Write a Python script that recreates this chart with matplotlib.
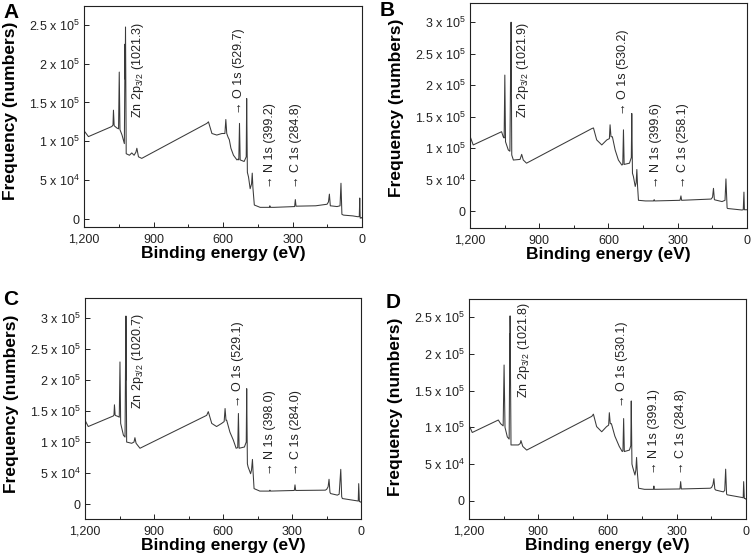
import matplotlib
matplotlib.use('Agg')
import matplotlib.pyplot as plt

plt.rcParams['font.family'] = ['Liberation Sans', 'DejaVu Sans']
plt.rcParams['mathtext.fontset'] = 'custom'
plt.rcParams['mathtext.rm'] = 'Liberation Sans'
plt.rcParams['mathtext.default'] = 'regular'

# XPS survey spectra, binding energy (eV) and counts in units of 1e5
energy_a = [1199, 1196, 1181, 1080, 1075, 1073, 1070, 1058, 1051, 1048, 1045, 1036, 1026, 1023, 1022.5, 1021,
            1018, 1004, 994, 984, 976, 972, 965, 951, 670, 663, 648, 627, 605, 592, 588, 584, 578, 573, 566,
            555, 540, 535, 532, 529, 526, 509, 500, 498, 495, 490, 483, 477, 474, 471, 465, 440, 400, 398,
            396, 380, 291, 288, 285, 200, 151, 145, 141, 137, 108, 95, 91, 87, 80, 40, 20, 12, 10, 8, 3, 0]
counts_a = [1.13, 1.12, 1.06, 1.19, 1.21, 1.40, 1.20, 1.17, 1.16, 1.89, 1.15, 1.08, 0.97, 2.25, 1.80, 2.47,
            0.84, 0.82, 0.85, 0.82, 0.86, 0.91, 0.80, 0.78, 1.23, 1.25, 1.10, 1.08, 1.10, 1.10, 1.28, 1.10,
            1.05, 1.02, 0.91, 0.82, 0.76, 0.77, 0.76, 1.23, 0.76, 0.74, 0.80, 1.55, 0.60, 0.54, 0.39, 0.45,
            0.59, 0.40, 0.18, 0.15, 0.15, 0.17, 0.15, 0.15, 0.16, 0.25, 0.165, 0.17, 0.19, 0.22, 0.32, 0.17,
            0.16, 0.17, 0.46, 0.06, 0.05, 0.04, 0.03, 0.03, 0.27, 0.01, 0.02, 0.01]

energy_b = [1199, 1186, 1063, 1056, 1052, 1049, 1046, 1034, 1027, 1023, 1022.5, 1022, 1019, 1012, 983, 976,
            969, 955, 672, 665, 651, 629, 607, 596, 593, 589, 583, 571, 557, 542, 538, 535, 532, 509, 501,
            499, 496, 492, 484, 480, 477, 474, 470, 440, 404, 402, 400, 290, 286, 283, 155, 149, 145, 141,
            137, 108, 95, 91, 86, 84, 22, 16, 13, 11, 3, 0]
counts_b = [1.18, 1.05, 1.26, 1.18, 1.16, 2.16, 1.10, 0.97, 0.95, 2.67, 1.90, 3.00, 0.89, 0.81, 0.82, 0.90,
            0.81, 0.76, 1.31, 1.32, 1.13, 1.05, 1.13, 1.15, 1.37, 1.18, 1.18, 0.97, 0.81, 0.73, 0.74, 1.29,
            0.74, 0.76, 0.85, 1.55, 0.60, 0.55, 0.39, 0.45, 0.66, 0.40, 0.17, 0.16, 0.16, 0.18, 0.16, 0.17,
            0.24, 0.17, 0.19, 0.22, 0.36, 0.18, 0.175, 0.15, 0.17, 0.51, 0.05, 0.04, 0.016, 0.02, 0.30, 0.02,
            0.02, 0.02]

energy_c = [1199, 1197, 1186, 1077, 1074, 1072, 1069, 1055, 1051, 1048, 1045, 1033, 1026, 1023, 1022.5, 1022,
            1019, 997, 987, 983, 978, 961, 671, 664, 649, 628, 606, 595, 591, 587, 584, 570, 555, 543, 536,
            533, 530, 507, 499, 497, 494, 491, 480, 476, 472, 469, 465, 440, 398, 396, 394, 290, 287, 284,
            155, 149, 143, 139, 135, 132, 103, 95, 88, 84, 81, 19, 12, 10, 7, 4, 0]
counts_c = [1.35, 1.33, 1.25, 1.42, 1.44, 1.60, 1.43, 1.41, 1.40, 2.29, 1.30, 1.11, 1.08, 2.72, 2.00, 3.03,
            1.00, 0.98, 1.00, 1.07, 0.98, 0.90, 1.43, 1.49, 1.30, 1.25, 1.30, 1.33, 1.54, 1.35, 1.35, 1.16,
            1.03, 0.90, 0.91, 1.46, 0.90, 0.92, 1.00, 1.86, 0.65, 0.60, 0.49, 0.55, 0.72, 0.50, 0.25, 0.21,
            0.21, 0.225, 0.21, 0.22, 0.31, 0.22, 0.225, 0.24, 0.28, 0.40, 0.19, 0.17, 0.145, 0.16, 0.56,
            0.12, 0.09, 0.054, 0.05, 0.33, 0.04, 0.04, 0.03]

energy_d = [1199, 1197, 1186, 1073, 1063, 1052, 1048, 1044, 1034, 1026, 1023, 1022.5, 1022, 1018, 986, 978,
            975, 967, 950, 668, 661, 647, 625, 604, 595, 592, 588, 583, 568, 549, 536, 533, 530, 527, 505,
            499, 497, 494, 491, 481, 477, 474, 471, 465, 440, 401, 399, 397, 286, 283, 280, 155, 149, 143,
            139, 135, 131, 98, 92, 88, 84, 81, 19, 12, 10, 7, 3, 0]
counts_d = [1.02, 1.01, 0.93, 1.10, 1.05, 1.02, 1.85, 1.00, 0.87, 0.84, 2.28, 1.60, 2.52, 0.76, 0.76, 0.78,
            0.82, 0.74, 0.69, 1.15, 1.18, 1.01, 0.94, 1.01, 1.03, 1.20, 1.05, 1.05, 0.88, 0.74, 0.67, 0.68,
            1.12, 0.67, 0.69, 0.75, 1.36, 0.50, 0.46, 0.35, 0.42, 0.59, 0.40, 0.17, 0.155, 0.155, 0.20, 0.155,
            0.16, 0.26, 0.16, 0.17, 0.18, 0.22, 0.30, 0.16, 0.145, 0.12, 0.14, 0.43, 0.09, 0.08, 0.045, 0.04,
            0.26, 0.03, 0.03, 0.02]

# peak labels: (text, energy, counts of bottom of label)
labels_a = [('Zn 2p$_{3/2}$ (1021.3)', 965, 1.30), ('\u2192 O 1s (529.7)', 530, 1.35),
            ('\u2192 N 1s (399.2)', 399, 0.40), ('\u2192 C 1s (284.8)', 287, 0.40)]
labels_b = [('Zn 2p$_{3/2}$ (1021.9)', 969, 1.47), ('\u2192 O 1s (530.2)', 537, 1.53),
            ('\u2192 N 1s (399.6)', 396, 0.36), ('\u2192 C 1s (258.1)', 279, 0.36)]
labels_c = [('Zn 2p$_{3/2}$ (1020.7)', 971, 1.54), ('\u2192 O 1s (529.1)', 533, 1.57),
            ('\u2192 N 1s (398.0)', 396, 0.47), ('\u2192 C 1s (284.0)', 284, 0.47)]
labels_d = [('Zn 2p$_{3/2}$ (1021.8)', 960, 1.40), ('\u2192 O 1s (530.1)', 539, 1.28),
            ('\u2192 N 1s (399.1)', 399, 0.37), ('\u2192 C 1s (284.8)', 282, 0.37)]

yticks_small = [0, 0.5, 1, 1.5, 2, 2.5]
yticks_big = [0, 0.5, 1, 1.5, 2, 2.5, 3]
ytick_names = ['0', '5 x 10$^4$', '1 x 10$^5$', '1.5 x 10$^5$', '2 x 10$^5$', '2.5 x 10$^5$', '3 x 10$^5$']
xticks = [1200, 900, 600, 300, 0]
xtick_names = ['1,200', '900', '600', '300', '0']

panels = [
    ('A', energy_a, counts_a, labels_a, yticks_small, (-0.103, 2.74), [0.1119, 0.5917, 0.3702, 0.3975], (0.004, 0.995), 0.525),
    ('B', energy_b, counts_b, labels_b, yticks_big, (-0.265, 3.30), [0.6258, 0.5905, 0.3688, 0.4035], (0.506, 0.998), 0.535),
    ('C', energy_c, counts_c, labels_c, yticks_big, (-0.24, 3.32), [0.1132, 0.0665, 0.3675, 0.3975], (0.004, 0.478), 0.52),
    ('D', energy_d, counts_d, labels_d, yticks_small, (-0.25, 2.75), [0.6245, 0.0665, 0.3688, 0.3957], (0.514, 0.473), 0.51),
]

fig = plt.figure(figsize=(7.51, 5.56), dpi=100)

for letter, e, c, labs, yt, ylim, pos, lpos, ylab_y in panels:
    ax = fig.add_axes(pos)
    ax.plot(e, c, color='#3a3a3a', linewidth=0.75)
    ax.set_xlim(1200, 0)
    ax.set_ylim(*ylim)
    ax.set_xticks(xticks)
    ax.set_xticklabels(xtick_names)
    ax.set_xticks([1050, 750, 450, 150], minor=True)
    ax.set_yticks(yt)
    ax.set_yticklabels(ytick_names[:len(yt)])
    ax.tick_params(which='major', direction='in', length=3.5, width=0.7, labelsize=9, colors='#222222')
    ax.tick_params(axis='x', pad=5)
    ax.tick_params(axis='y', pad=3)
    ax.tick_params(which='minor', direction='in', length=2, width=0.6)
    for s in ax.spines.values():
        s.set_linewidth(0.8)
        s.set_color('#222222')
    ax.set_xlabel('Binding energy (eV)', fontsize=12.5, fontweight='bold')
    ax.xaxis.set_label_coords(0.5, -0.088)
    ax.set_ylabel('Frequency (numbers)', fontsize=12.5, fontweight='bold')
    ax.yaxis.set_label_coords(-0.238, ylab_y)
    for txt, x, y in labs:
        ax.text(x, y, txt, rotation=90, ha='center', va='bottom', fontsize=9, color='#222222')
    fig.text(lpos[0], lpos[1], letter, fontsize=15, fontweight='bold', va='top', ha='left')

fig.savefig('out.png', dpi=100)
